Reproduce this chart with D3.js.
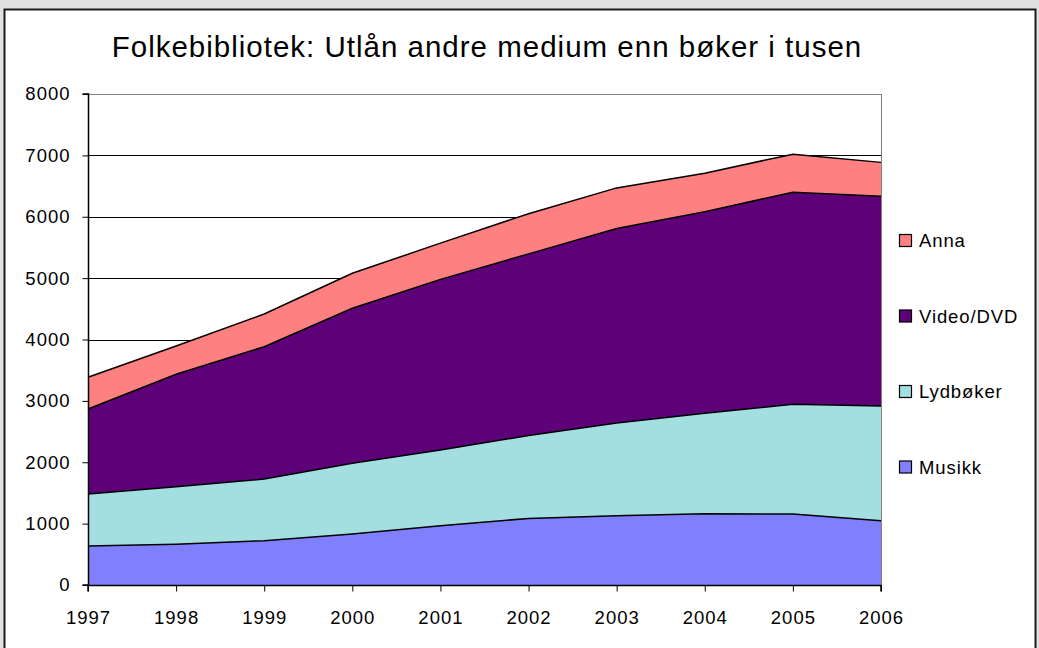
<!DOCTYPE html>
<html>
<head>
  <meta charset="utf-8">
  <script src="https://d3js.org/d3.v7.min.js"></script>
  <style type="text/css">
    body { margin: 0; background: #e0e0e0; }
    svg { display: block; font-family: "Liberation Sans", Arial, sans-serif; }
  </style>
</head>
<body>
  <div id="chartContainer"></div>

  <script type="text/javascript">
    // data (thousands of loans)
    var years    = [1997, 1998, 1999, 2000, 2001, 2002, 2003, 2004, 2005, 2006];
    var musikk   = [635, 665, 722, 831, 965, 1085, 1127, 1160, 1157, 1045];
    var lydboker = [848, 937, 1005, 1152, 1235, 1350, 1513, 1637, 1788, 1871];
    var video    = [1385, 1831, 2156, 2525, 2780, 2960, 3170, 3283, 3455, 3417];
    var anna     = [516, 461, 532, 571, 590, 655, 660, 630, 620, 553];
    var seriesNames = ['Musikk', 'Lydbøker', 'Video/DVD', 'Anna'];
    var yTicks = [0, 1000, 2000, 3000, 4000, 5000, 6000, 7000, 8000];

    var colors = {
      'Musikk': '#8080ff',
      'Lydbøker': '#a3dfe0',
      'Video/DVD': '#5e0078',
      'Anna': '#ff8080'
    };

    var W = 1039, H = 648;
    var plot = { left: 88, right: 881, top: 94, bottom: 585 };

    var rows = years.map(function(y, i) {
      return { year: y, 'Musikk': musikk[i], 'Lydbøker': lydboker[i], 'Video/DVD': video[i], 'Anna': anna[i] };
    });

    var svg = d3.select('#chartContainer').append('svg')
      .attr('width', W).attr('height', H);

    // outer frame
    svg.append('rect').attr('x', 0).attr('y', 0).attr('width', W).attr('height', H).attr('fill', '#e0e0e0');
    svg.append('rect')
      .attr('x', 4.5).attr('y', 9.5).attr('width', 1031).attr('height', 660)
      .attr('fill', '#fff').attr('stroke', '#1a1a1a').attr('stroke-width', 2);

    svg.append('text')
      .attr('x', 487).attr('y', 57)
      .attr('text-anchor', 'middle')
      .style('font-size', '29.5px')
      .style('letter-spacing', '1px')
      .text('Folkebibliotek: Utlån andre medium enn bøker i tusen');

    var x = d3.scaleLinear().domain([years[0], years[years.length - 1]]).range([plot.left, plot.right]);
    var y = d3.scaleLinear().domain([0, 8000]).range([plot.bottom, plot.top]);

    // gridlines
    svg.append('g').selectAll('line')
      .data(yTicks.slice(1))
      .enter().append('line')
      .attr('x1', plot.left).attr('x2', plot.right)
      .attr('y1', function(d) { return Math.round(y(d)) + 0.5; })
      .attr('y2', function(d) { return Math.round(y(d)) + 0.5; })
      .attr('stroke', function(d) { return d === 8000 ? '#808080' : '#000'; })
      .attr('stroke-width', 1);

    // right border of plot area
    svg.append('line')
      .attr('x1', plot.right + 0.5).attr('x2', plot.right + 0.5)
      .attr('y1', plot.top).attr('y2', plot.bottom)
      .attr('stroke', '#808080');

    var stack = d3.stack().keys(seriesNames);
    var layers = stack(rows);

    var area = d3.area()
      .x(function(d) { return x(d.data.year); })
      .y0(function(d) { return y(d[0]); })
      .y1(function(d) { return y(d[1]); });

    var topLine = d3.line()
      .x(function(d) { return x(d.data.year); })
      .y(function(d) { return y(d[1]); });

    svg.append('g').selectAll('path')
      .data(layers)
      .enter().append('path')
      .attr('d', area)
      .attr('fill', function(d) { return colors[d.key]; });

    svg.append('g').selectAll('path')
      .data(layers)
      .enter().append('path')
      .attr('d', topLine)
      .attr('fill', 'none')
      .attr('stroke', '#000')
      .attr('stroke-width', 1.5);

    // axes
    var yAxis = d3.axisLeft(y).tickValues(yTicks).tickSize(6).tickPadding(12).tickFormat(d3.format('d'));
    var xAxis = d3.axisBottom(x).tickValues(years).tickSize(6).tickPadding(19).tickFormat(d3.format('d'));

    var gy = svg.append('g').attr('transform', 'translate(' + (plot.left + 0.5) + ',0)').call(yAxis);
    var gx = svg.append('g').attr('transform', 'translate(0,' + (plot.bottom + 0.5) + ')').call(xAxis);

    [gy, gx].forEach(function(g) {
      g.select('.domain').attr('stroke', '#000').attr('stroke-width', 1.5);
      g.selectAll('.tick line').attr('stroke', '#000');
      g.selectAll('.tick text')
        .attr('fill', '#000')
        .style('font-family', '"Liberation Sans", Arial, sans-serif')
        .style('font-size', '18.5px')
        .style('letter-spacing', '1px');
    });
    gy.select('.domain').attr('d', 'M-6,' + plot.bottom + 'H0V' + plot.top + 'H-6');
    gx.select('.domain').attr('d', 'M' + plot.left + ',6V0H' + plot.right + 'V6');

    // legend
    var legendNames = seriesNames.slice().reverse();
    var legend = svg.append('g').selectAll('g')
      .data(legendNames)
      .enter().append('g')
      .attr('transform', function(d, i) { return 'translate(899,' + (241 + i * 75.5) + ')'; });

    legend.append('rect')
      .attr('x', 0.5).attr('y', -6.5).attr('width', 12).attr('height', 12)
      .attr('fill', function(d) { return colors[d]; })
      .attr('stroke', '#000').attr('stroke-width', 1.2);

    legend.append('text')
      .attr('x', 20).attr('y', 0).attr('dy', '0.35em')
      .style('font-size', '18.5px')
      .style('letter-spacing', '0.9px')
      .text(function(d) { return d; });
  </script>
</body>
</html>
